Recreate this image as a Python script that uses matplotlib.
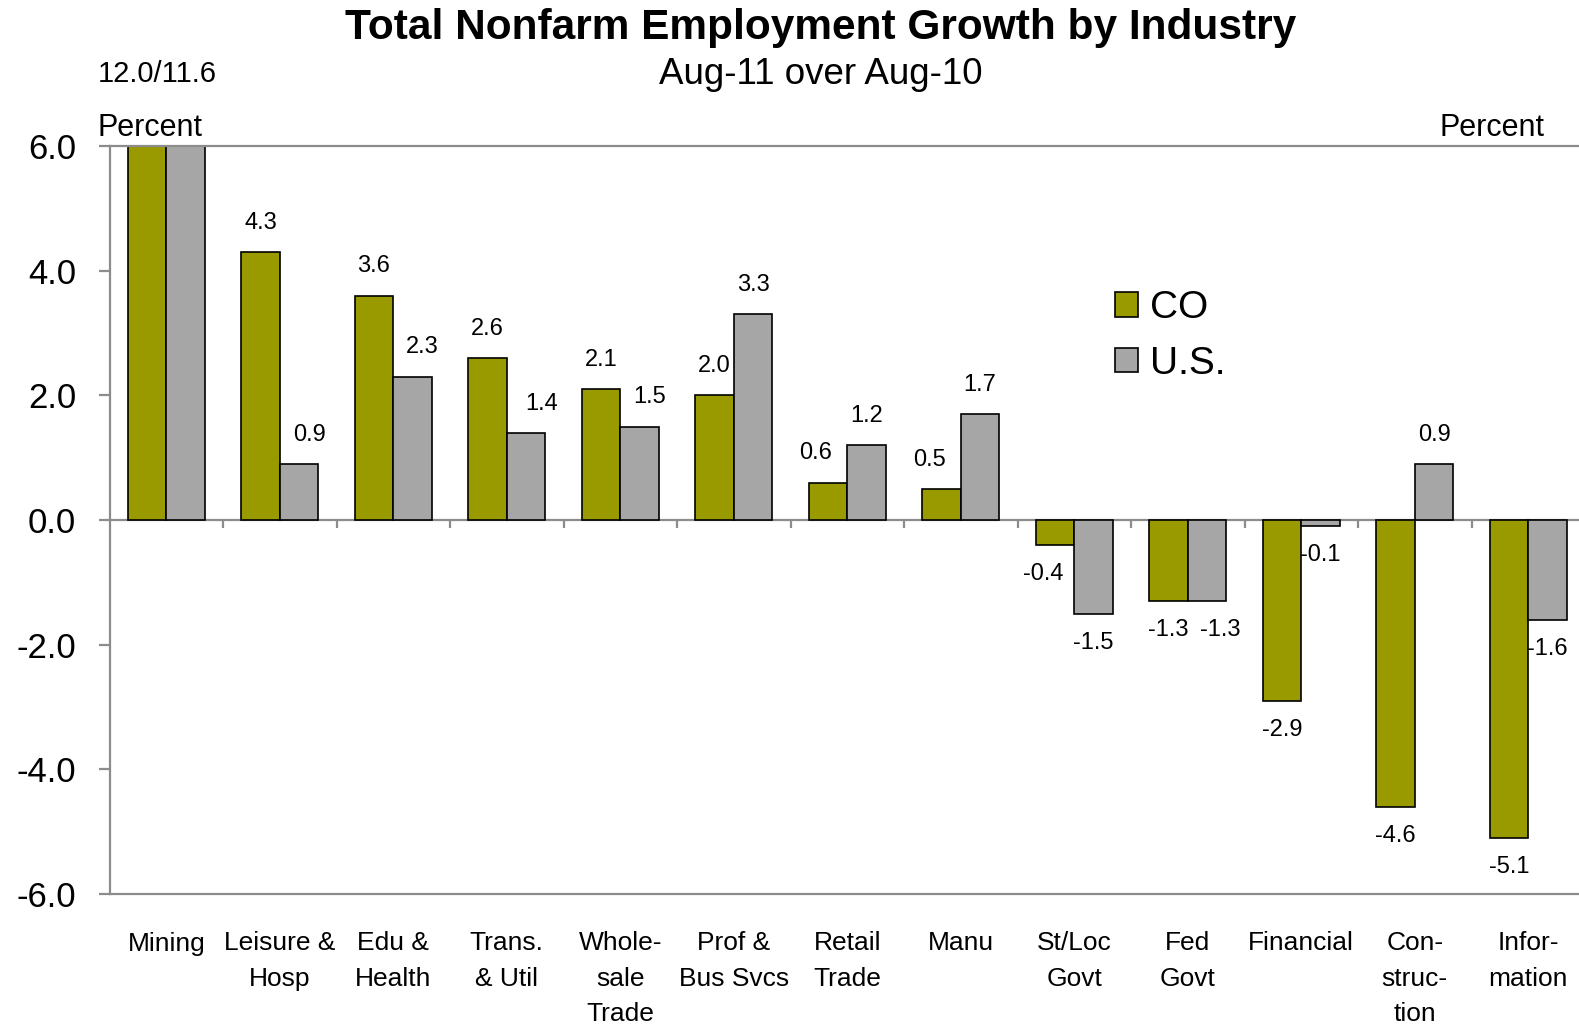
import matplotlib
matplotlib.use("Agg")
import matplotlib.pyplot as plt
from matplotlib.patches import Patch
import numpy as np

# data
categories = ["Mining", "Leisure &\nHosp", "Edu &\nHealth", "Trans.\n& Util",
              "Whole-\nsale\nTrade", "Prof &\nBus Svcs", "Retail\nTrade", "Manu",
              "St/Loc\nGovt", "Fed\nGovt", "Financial", "Con-\nstruc-\ntion",
              "Infor-\nmation"]
co_vals = [12.0, 4.3, 3.6, 2.6, 2.1, 2.0, 0.6, 0.5, -0.4, -1.3, -2.9, -4.6, -5.1]
us_vals = [11.6, 0.9, 2.3, 1.4, 1.5, 3.3, 1.2, 1.7, -1.5, -1.3, -0.1, 0.9, -1.6]
yticks = [-6.0, -4.0, -2.0, 0.0, 2.0, 4.0, 6.0]

# sideways nudges (pixels) the original applies to some value labels
co_nudge = [0, 0, 0, 0, 0, 0, -12, -12, -12, 0, 0, 0, 0]
us_nudge = [0, 10, 10, 16, 10, 0, 0, 0, 0, 13, 0, 0, 0]

co_color = "#999900"
us_color = "#a6a6a6"
axis_gray = "#8c8c8c"
font = ["Liberation Sans", "DejaVu Sans"]

W, H = 1579, 1030
fig = plt.figure(figsize=(W / 100, H / 100), dpi=100)
ax = fig.add_axes([109.5 / W, 1 - 894 / H, 1475.5 / W, 748 / H])

x = np.arange(len(categories))
w = 0.34
ax.bar(x - w / 2, co_vals, w, color=co_color, edgecolor="black", linewidth=1.2, zorder=2)
ax.bar(x + w / 2, us_vals, w, color=us_color, edgecolor="black", linewidth=1.2, zorder=2)

ax.set_xlim(-0.5, len(categories) - 0.5)
ax.set_ylim(-6, 6)

# value labels (skip bars that run off the top)
for xs, vals, nudge in ((x - w / 2, co_vals, co_nudge), (x + w / 2, us_vals, us_nudge)):
    for xi, v, dx in zip(xs, vals, nudge):
        if v > 6:
            continue
        off = 21 if v >= 0 else -21
        ax.annotate(f"{v:.1f}", (xi, v), xytext=(dx * 0.72, off), textcoords="offset points",
                    ha="center", va="center", fontsize=17, family=font, zorder=3)

# spines
for s in ("left", "top", "bottom"):
    ax.spines[s].set_color(axis_gray)
    ax.spines[s].set_linewidth(1.6)
ax.spines["right"].set_visible(False)
ax.spines["bottom"].set_position(("data", 0))
ax.spines["bottom"].set_zorder(1)

ax.set_yticks(yticks)
ax.set_yticklabels([f"{t:.1f}" for t in yticks], family=font, fontsize=25)
ax.tick_params(axis="y", direction="out", length=8, width=1.6, color=axis_gray, pad=16)

ax.set_xticks([])
ax.set_xticks(x[:-1] + 0.5, minor=True)
ax.tick_params(axis="x", which="minor", direction="out", length=6, width=1.6, color=axis_gray)

# category labels along the bottom edge
sec = ax.secondary_xaxis(0.0)
sec.set_xticks(x)
sec.set_xticklabels(categories, family=font, fontsize=19, linespacing=1.6)
sec.tick_params(axis="x", length=0, pad=27)
sec.spines["bottom"].set_color(axis_gray)
sec.spines["bottom"].set_linewidth(1.6)

# titles and notes
fig.text(821 / W, 1 - 28 / H, "Total Nonfarm Employment Growth by Industry",
         ha="center", va="center", fontsize=30.5, fontweight="bold", family=font)
fig.text(821 / W, 1 - 75 / H, "Aug-11 over Aug-10", ha="center", va="center",
         fontsize=26.5, family=font)
fig.text(98 / W, 1 - 74 / H, "12.0/11.6", ha="left", va="center", fontsize=21, family=font)
fig.text(98 / W, 1 - 128 / H, "Percent", ha="left", va="center", fontsize=22, family=font)
fig.text(1544 / W, 1 - 128 / H, "Percent", ha="right", va="center", fontsize=22, family=font)

handles = [Patch(facecolor=co_color, edgecolor="black", linewidth=1.2),
           Patch(facecolor=us_color, edgecolor="black", linewidth=1.2)]
fig.legend(handles, ["CO", "U.S."], loc="center left", bbox_to_anchor=(1115 / W, 1 - 336 / H),
           frameon=False, prop={"family": font, "size": 28}, handlelength=0.59,
           handleheight=0.59, handletextpad=0.3, labelspacing=0.5,
           borderpad=0, borderaxespad=0)

fig.savefig("out.png", dpi=100)
